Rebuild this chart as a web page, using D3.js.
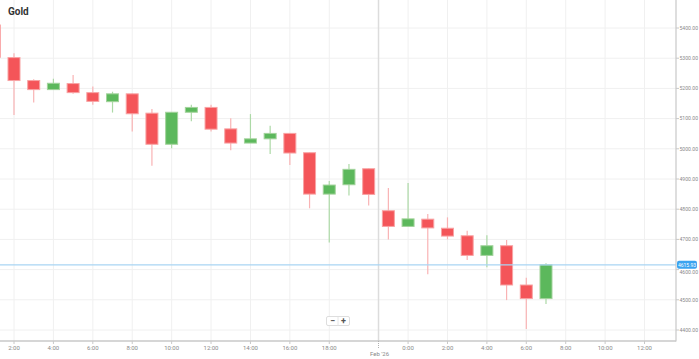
<!DOCTYPE html>
<html><head><meta charset="utf-8">
<script src="https://cdn.jsdelivr.net/npm/d3@7"></script>
<style>
html,body{margin:0;padding:0;background:#fff;}
svg{display:block;font-family:Roboto, "Noto Sans", sans-serif;}
</style></head>
<body><svg id="c" width="699" height="359"></svg>
<script>
const times = ["1:00","2:00","3:00","4:00","5:00","6:00","7:00","8:00","9:00","10:00","11:00","12:00","13:00","14:00","15:00","16:00","17:00","18:00","19:00","20:00","23:00","0:00","1:00","2:00","3:00","4:00","5:00","6:00","7:00"];
const openV  = [5410,5302,5226,5196,5216,5186,5156,5182,5118,5015,5121,5137,5066,5019,5033,5051,4987,4850,4881,4934,4795,4743,4767,4737,4712,4647,4679,4549,4504];
const highV  = [5440,5316,5230,5232,5244,5206,5189,5183,5132,5121,5146,5146,5101,5115,5076,5052,4988,4893,4950,4935,4870,4887,4784,4773,4729,4714,4698,4573,4621];
const lowV   = [5290,5112,5153,5196,5182,5146,5120,5057,4944,5002,5091,5057,4995,5019,4983,4946,4803,4690,4845,4812,4700,4743,4585,4700,4632,4608,4499,4403,4486];
const closeV = [5303,5226,5196,5217,5186,5157,5182,5116,5015,5121,5137,5065,5019,5033,5051,4986,4850,4880,4932,4849,4743,4768,4738,4711,4647,4679,4549,4504,4615.93];
const xTickIdx = [1,3,5,7,9,11,13,15,17,21,23,25,27,29,31,33];
const xTickLabels = ["2:00","4:00","6:00","8:00","10:00","12:00","14:00","16:00","18:00","0:00","2:00","4:00","6:00","8:00","10:00","12:00"];
const yTicks = [4400,4500,4600,4700,4800,4900,5000,5100,5200,5300,5400];
const dayBreakIdx = 19.5;
const dayLabel = "Feb '26";
const title = "Gold";
const lastPrice = 4615.93;

const svg = d3.select("#c");
const W = 676, H = 341;
const x = d3.scaleLinear().domain([1, 28]).range([14, 546]);
const y = d3.scaleLinear().domain([4400, 5400]).range([330, 28]);

const defs = svg.append("defs");
defs.append("clipPath").attr("id","clip").append("rect").attr("x",0).attr("y",0).attr("width",W).attr("height",H);

// horizontal grid
svg.append("g").selectAll("line").data(yTicks).join("line")
  .attr("x1",0).attr("x2",W).attr("y1",d=>y(d)).attr("y2",d=>y(d))
  .attr("stroke","#f0f0f0").attr("stroke-width",1);
// vertical grid
svg.append("g").selectAll("line").data(xTickIdx).join("line")
  .attr("x1",d=>x(d)).attr("x2",d=>x(d)).attr("y1",0).attr("y2",H)
  .attr("stroke","#f0f0f0").attr("stroke-width",1);
// day separator
svg.append("line").attr("x1",x(dayBreakIdx)).attr("x2",x(dayBreakIdx)).attr("y1",0).attr("y2",H)
  .attr("stroke","#dcdcdc").attr("stroke-width",1.5);

// candles
const data = times.map((t,i)=>({t, i, o:openV[i], h:highV[i], l:lowV[i], c:closeV[i]}));
const g = svg.append("g").attr("clip-path","url(#clip)");
const bw = 12;
const red = "#f45559", redW = "#f9b3b4", redS = "#f8a3a4";
const grn = "#5cb85c", grnW = "#acd9a6", grnS = "#a3d39c";
g.selectAll("line.w").data(data).join("line").attr("class","w")
  .attr("x1",d=>x(d.i)).attr("x2",d=>x(d.i))
  .attr("y1",d=>y(d.h)).attr("y2",d=>y(d.l))
  .attr("stroke",d=>d.c>=d.o?grnW:redW).attr("stroke-width",1.2);
g.selectAll("rect.b").data(data).join("rect").attr("class","b")
  .attr("x",d=>x(d.i)-bw/2).attr("width",bw)
  .attr("y",d=>y(Math.max(d.o,d.c)))
  .attr("height",d=>Math.max(1,Math.abs(y(d.o)-y(d.c))))
  .attr("fill",d=>d.c>=d.o?grn:red)
  .attr("stroke",d=>d.c>=d.o?grnS:redS).attr("stroke-width",1);

// last price line
svg.append("line").attr("x1",0).attr("x2",W).attr("y1",y(lastPrice)).attr("y2",y(lastPrice))
  .attr("stroke","#a9d5f3").attr("stroke-width",1.2);

// axes lines
svg.append("line").attr("x1",W).attr("x2",W).attr("y1",0).attr("y2",H+0.5).attr("stroke","#c8c8c8").attr("stroke-width",1.2);
svg.append("line").attr("x1",0).attr("x2",W).attr("y1",H).attr("y2",H).attr("stroke","#c8c8c8").attr("stroke-width",1.5);

// y axis labels
const ya = svg.append("g");
ya.selectAll("line").data(yTicks).join("line")
  .attr("x1",W).attr("x2",W+3).attr("y1",d=>y(d)).attr("y2",d=>y(d)).attr("stroke","#c8c8c8");
ya.selectAll("text").data(yTicks).join("text")
  .attr("x",W+3.5).attr("y",d=>y(d)+ (d===4600?3:0)).attr("dy","0.35em")
  .attr("font-size",5.1).attr("fill","#8a8a8a").text(d=>d3.format(".2f")(d));

// x axis labels
const xa = svg.append("g");
xa.selectAll("line").data(xTickIdx).join("line")
  .attr("x1",d=>x(d)).attr("x2",d=>x(d)).attr("y1",H).attr("y2",H+3).attr("stroke","#c8c8c8");
xa.selectAll("text").data(xTickIdx).join("text")
  .attr("x",d=>x(d)).attr("y",350).attr("text-anchor","middle")
  .attr("font-size",6).attr("fill","#8a8a8a").text((d,i)=>xTickLabels[i]);
svg.append("line").attr("x1",x(dayBreakIdx)).attr("x2",x(dayBreakIdx)).attr("y1",H).attr("y2",H+8)
  .attr("stroke","#b0b0b0").attr("stroke-dasharray","1,1");
svg.append("text").attr("x",x(dayBreakIdx)+1).attr("y",356).attr("text-anchor","middle")
  .attr("font-size",6).attr("fill","#8a8a8a").text(dayLabel);

// price label
const py = y(lastPrice);
svg.append("rect").attr("x",W+1).attr("y",py-4).attr("width",20).attr("height",8).attr("rx",2)
  .attr("fill","#3aa3f0");
svg.append("text").attr("x",W+11).attr("y",py).attr("dy","0.35em").attr("text-anchor","middle")
  .attr("font-size",5).attr("fill","#fff").text(d3.format(".2f")(lastPrice));

// title
svg.append("text").attr("x",8).attr("y",15).attr("font-size",10).attr("font-weight","bold")
  .attr("fill","#333").text(title);

// zoom control
const zc = svg.append("g").attr("transform","translate(326,316)");
zc.append("rect").attr("x",0.5).attr("y",0.5).attr("width",23).attr("height",9).attr("rx",1.5)
  .attr("fill","#fff").attr("stroke","#dedede");
zc.append("line").attr("x1",12).attr("x2",12).attr("y1",1).attr("y2",9.5).attr("stroke","#e6e6e6");
zc.append("text").attr("x",6.5).attr("y",5.3).attr("dy","0.35em").attr("text-anchor","middle")
  .attr("font-size",9).attr("font-weight","bold").attr("fill","#555").text("−");
zc.append("text").attr("x",17.5).attr("y",5.3).attr("dy","0.35em").attr("text-anchor","middle")
  .attr("font-size",9).attr("font-weight","bold").attr("fill","#555").text("+");
</script></body></html>
